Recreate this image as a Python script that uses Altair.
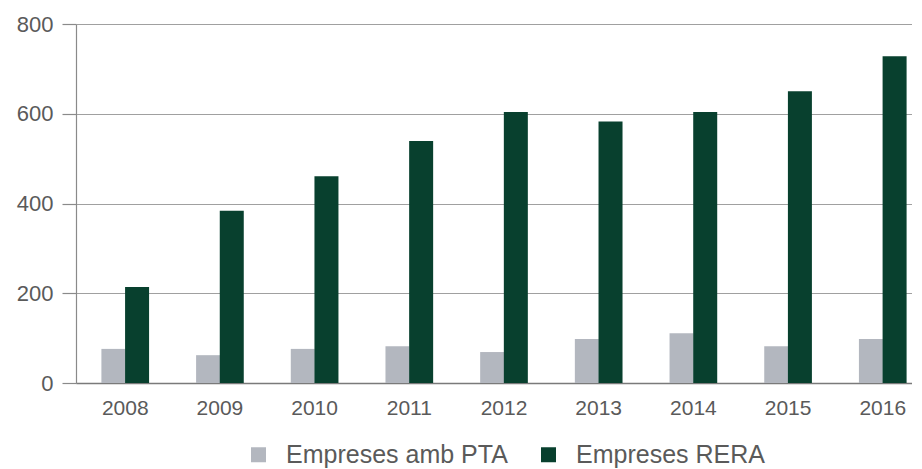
import altair as alt
import pandas as pd

years = ["2008", "2009", "2010", "2011", "2012", "2013", "2014", "2015", "2016"]
pta = [76, 62, 76, 82, 69, 98, 111, 82, 98]
rera = [214, 384, 461, 539, 604, 583, 604, 650, 728]
series = ["Empreses amb PTA", "Empreses RERA"]
colors = ["#b3b7bf", "#08402e"]

rows = []
for i, y in enumerate(years):
    rows.append({"year": y, "serie": series[0], "value": pta[i]})
    rows.append({"year": y, "serie": series[1], "value": rera[i]})
df = pd.DataFrame(rows)

FONT = "Liberation Sans"

chart = alt.Chart(df).mark_bar(size=24).encode(
    x=alt.X("year:N", sort=years, title=None,
            scale=alt.Scale(paddingInner=0, paddingOuter=0.02, range=[0, 856]),
            axis=alt.Axis(labelAngle=0, labelFontSize=21, labelColor="#5a5a5a",
                          labelFont=FONT, ticks=False, labelPadding=14,
                          domain=True, domainColor="#7a7a7a", domainWidth=1.5,
                          grid=False)),
    xOffset=alt.XOffset("serie:N", sort=series,
                        scale=alt.Scale(paddingInner=0, paddingOuter=1)),
    y=alt.Y("value:Q", title=None,
            scale=alt.Scale(domain=[0, 800], nice=False),
            axis=alt.Axis(values=[0, 200, 400, 600, 800], labelFontSize=22,
                          labelColor="#5a5a5a", labelFont=FONT, tickSize=14,
                          tickColor="#8a8a8a", tickWidth=1.2, labelPadding=9,
                          domainColor="#8a8a8a", domainWidth=1.2,
                          gridColor="#a0a0a0", gridWidth=1.2)),
    color=alt.Color("serie:N", sort=series,
                    scale=alt.Scale(domain=series, range=colors),
                    legend=alt.Legend(title=None, orient="none", direction="horizontal",
                                      legendX=170, legendY=418, symbolType="square",
                                      symbolSize=225, symbolStrokeWidth=0,
                                      labelFontSize=25, labelFont=FONT,
                                      labelColor="#5a5a5a", labelOffset=15,
                                      columnPadding=28, padding=0, labelLimit=400)),
).properties(
    width=836, height=359,
    autosize=alt.AutoSizeParams(type="none"),
    padding={"left": 68, "top": 16, "right": 0, "bottom": 86},
).configure_view(stroke=None)

chart.save("out.html", embed_options={"renderer": "svg", "actions": False})
